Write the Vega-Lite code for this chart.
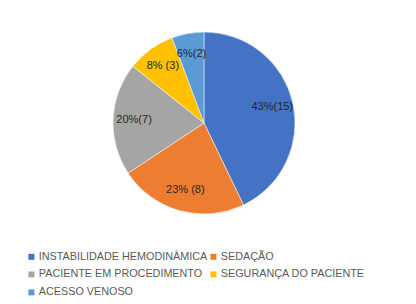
{
  "$schema": "https://vega.github.io/schema/vega-lite/v6.json",
  "width": 408,
  "height": 246,
  "padding": 0,
  "background": "white",
  "data": {
    "values": [
      {"categoria": "INSTABILIDADE HEMODINÂMICA", "n": 15, "rotulo": "43%(15)"},
      {"categoria": "SEDAÇÃO", "n": 8, "rotulo": "23% (8)"},
      {"categoria": "PACIENTE EM PROCEDIMENTO", "n": 7, "rotulo": "20%(7)"},
      {"categoria": "SEGURANÇA DO PACIENTE", "n": 3, "rotulo": "8% (3)"},
      {"categoria": "ACESSO VENOSO", "n": 2, "rotulo": "6%(2)"}
    ]
  },
  "encoding": {
    "theta": {"field": "n", "type": "quantitative", "stack": true},
    "color": {
      "field": "categoria",
      "type": "nominal",
      "sort": ["INSTABILIDADE HEMODINÂMICA", "SEDAÇÃO", "PACIENTE EM PROCEDIMENTO", "SEGURANÇA DO PACIENTE", "ACESSO VENOSO"],
      "scale": {
        "domain": ["INSTABILIDADE HEMODINÂMICA", "SEDAÇÃO", "PACIENTE EM PROCEDIMENTO", "SEGURANÇA DO PACIENTE", "ACESSO VENOSO"],
        "range": ["#4472C4", "#ED7D31", "#A5A5A5", "#FFC000", "#5B9BD5"]
      },
      "legend": {
        "title": null,
        "orient": "none",
        "legendX": 26,
        "legendY": 251,
        "direction": "horizontal",
        "columns": 2,
        "columnPadding": 0,
        "rowPadding": 6,
        "symbolType": "square",
        "symbolSize": 36,
        "symbolOffset": 0,
        "labelOffset": 2,
        "symbolStrokeWidth": 0,
        "labelFont": "Liberation Sans",
        "labelFontSize": 10.8,
        "labelColor": "#595959",
        "labelLimit": 300
      }
    },
    "order": {"field": "n", "sort": "descending"}
  },
  "layer": [
    {
      "mark": {"type": "arc", "outerRadius": 91, "stroke": "white", "strokeWidth": 0.5}
    },
    {
      "mark": {"type": "text", "radius": 70, "font": "Liberation Sans", "fontSize": 11, "fill": "#262626"},
      "encoding": {
        "text": {"field": "rotulo", "type": "nominal"},
        "color": {"value": "#262626"}
      }
    }
  ],
  "config": {"view": {"stroke": null}}
}
